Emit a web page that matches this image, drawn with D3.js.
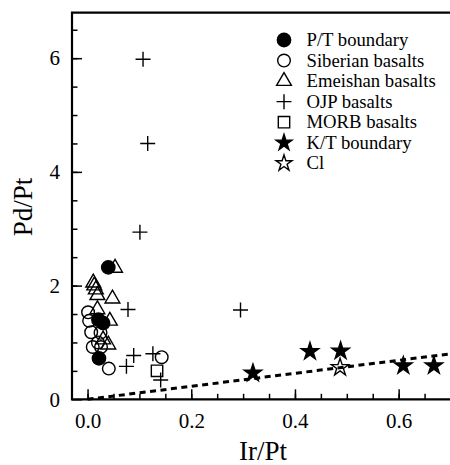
<!DOCTYPE html>
<html><head><meta charset="utf-8">
<script src="https://cdn.jsdelivr.net/npm/d3@7"></script>
<style>body{margin:0;background:#fff}svg{display:block}text{font-family:"Liberation Serif","Times New Roman",serif;fill:#000}</style>
</head><body><svg id="c" width="450" height="465"></svg>
<script>
// ---- data ----
const ptX  = [0.040, 0.021, 0.030, 0.022];
const ptY  = [2.32, 1.40, 1.34, 0.72];
const sibX = [0.001, 0.003, 0.007, 0.025, 0.010, 0.020, 0.026, 0.041, 0.143];
const sibY = [1.53, 1.38, 1.18, 1.17, 0.92, 1.00, 0.92, 0.54, 0.74];
const emX  = [0.053, 0.011, 0.013, 0.016, 0.019, 0.048, 0.019, 0.043, 0.030, 0.040];
const emY  = [2.31, 2.05, 2.00, 1.93, 1.83, 1.77, 1.58, 1.38, 1.05, 0.96];
const ojpX = [0.107, 0.116, 0.101, 0.078, 0.295, 0.089, 0.075, 0.126, 0.141];
const ojpY = [5.98, 4.50, 2.94, 1.58, 1.57, 0.77, 0.58, 0.80, 0.34];
const morbX = [0.134];
const morbY = [0.50];
const ktX  = [0.319, 0.429, 0.488, 0.609, 0.668];
const ktY  = [0.46, 0.84, 0.85, 0.59, 0.59];
const ciX  = [0.487];
const ciY  = [0.56];
const lineX = [0, 0.70];
const lineY = [0, 0.80];
const xTicks = [0.0, 0.2, 0.4, 0.6];
const yTicks = [0, 2, 4, 6];
const legendLabels = ["P/T boundary","Siberian basalts","Emeishan basalts","OJP basalts","MORB basalts","K/T boundary","Cl"];
const legendKinds  = ["pt","sib","em","ojp","morb","kt","ci"];

// ---- layout ----
const svg = d3.select("#c");
const L = 72, R = 450.5, T = 12.7, B = 399.3;
const x = d3.scaleLinear().domain([-0.03, 0.70]).range([L, R]);
const y = d3.scaleLinear().domain([0, 6.8]).range([B, T]);

const sw = 1.4;
function sym(kind, legend){
  const st = legend ? 80 : 95;
  switch(kind){
    case "pt":  return {d:d3.symbol(d3.symbolCircle,140)(), fill:"#000", stroke:"#000"};
    case "sib": return {d:d3.symbol(d3.symbolCircle,125)(), fill:"none", stroke:"#000"};
    case "em":  return {d:d3.symbol(d3.symbolTriangle,95)(), fill:"none", stroke:"#000"};
    case "ojp": return {d:"M-7.5,0H7.5M0,-7.5V7.5", fill:"none", stroke:"#000"};
    case "morb":return {d:d3.symbol(d3.symbolSquare,130)(), fill:"none", stroke:"#000"};
    case "kt":  return {d:d3.symbol(d3.symbolStar,st)(), fill:"#000", stroke:"#000"};
    case "ci":  return {d:d3.symbol(d3.symbolStar,st)(), fill:"none", stroke:"#000"};
  }
}
function plot(xs, ys, kind){
  const s = sym(kind, false);
  svg.append("g").selectAll("path").data(xs.map((v,i)=>[v,ys[i]])).join("path")
    .attr("d", s.d).attr("transform", d=>`translate(${x(d[0])},${y(d[1])})`)
    .attr("fill", s.fill).attr("stroke", s.stroke).attr("stroke-width", sw);
}

// dashed reference line
svg.append("path").datum(lineX.map((v,i)=>[v,lineY[i]]))
  .attr("d", d3.line().x(d=>x(d[0])).y(d=>y(d[1])))
  .attr("fill","none").attr("stroke","#000").attr("stroke-width",3).attr("stroke-dasharray","6,4.5");

plot(emX, emY, "em");
plot(sibX, sibY, "sib");
plot(ptX, ptY, "pt");
plot(ojpX, ojpY, "ojp");
plot(morbX, morbY, "morb");
plot(ktX, ktY, "kt");
plot(ciX, ciY, "ci");

// axes (ticks inward)
const xMinor = d3.range(0, 0.701, 0.05);
const yMinor = d3.range(0.5, 6.81, 0.5);
const gx = svg.append("g").attr("transform",`translate(0,${B})`);
gx.call(d3.axisBottom(x).tickValues(xMinor).tickSize(-5.5).tickFormat(""));
gx.append("g").call(d3.axisBottom(x).tickValues(xTicks).tickSize(-10).tickFormat(d3.format(".1f")));
gx.selectAll(".domain").remove();
gx.selectAll("line").attr("stroke","#000").attr("stroke-width",1.5);
gx.selectAll("text").attr("y",14).attr("dy","0.71em").style("font-size","21px").style("font-family","'Liberation Serif',serif");

const gy = svg.append("g").attr("transform",`translate(${L},0)`);
gy.call(d3.axisLeft(y).tickValues(yMinor).tickSize(-5.5).tickFormat(""));
gy.append("g").call(d3.axisLeft(y).tickValues(yTicks).tickSize(-10).tickFormat(d3.format("d")));
gy.selectAll(".domain").remove();
gy.selectAll("line").attr("stroke","#000").attr("stroke-width",1.5);
gy.selectAll("text").attr("x",-12).style("font-size","21px").style("font-family","'Liberation Serif',serif");

// frame (right side lies just outside the cropped picture)
svg.append("path").attr("d",`M${L},${T}H${R+3}V${B}H${L}Z`).attr("fill","none").attr("stroke","#000").attr("stroke-width",2.2);

// axis titles
svg.append("text").attr("x",263).attr("y",460).attr("text-anchor","middle").style("font-size","27px").text("Ir/Pt");
svg.append("text").attr("transform","translate(32,207) rotate(-90)").attr("text-anchor","middle").style("font-size","27px").text("Pd/Pt");

// legend
const lg = svg.append("g");
legendKinds.forEach((k,i)=>{
  const cy = 40 + i*20.55;
  const s = sym(k, true);
  lg.append("path").attr("d", s.d).attr("transform",`translate(284,${cy})`)
    .attr("fill", s.fill).attr("stroke", s.stroke).attr("stroke-width", sw);
  lg.append("text").attr("x",306.5).attr("y",cy).attr("dy","0.33em").style("font-size","18.7px").text(legendLabels[i]);
});
</script></body></html>
